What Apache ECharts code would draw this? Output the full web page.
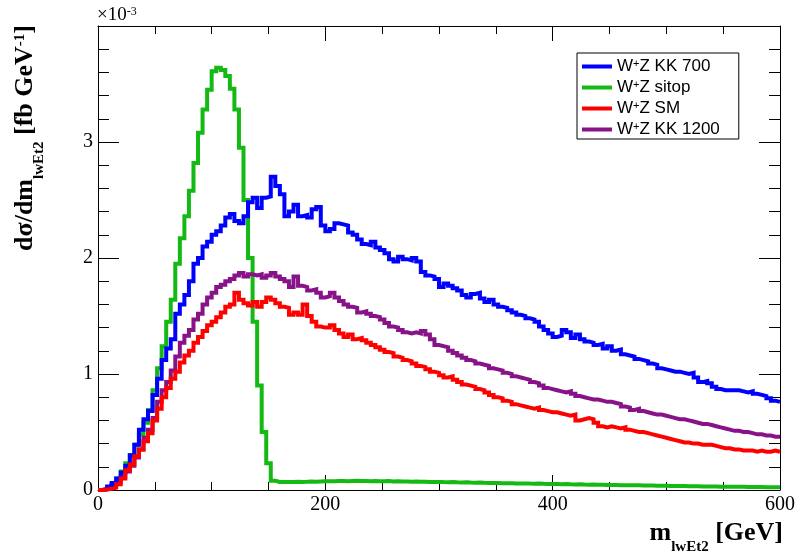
<!DOCTYPE html>
<html>
<head>
<meta charset="utf-8">
<script src="https://cdn.jsdelivr.net/npm/echarts@6/dist/echarts.min.js"></script>
<style>
html,body{margin:0;padding:0;background:#fff;}
#chart{width:798px;height:556px;}
</style>
</head>
<body>
<div id="chart"></div>
<script>
// Histogram bin width in GeV (bins start at 0), values in units of 10^-3 fb/GeV
const BIN_WIDTH = 4;
const X_MIN = 0, X_MAX = 600;
const Y_MIN = 0, Y_MAX = 4;

const seriesNames = ['W+Z KK 700', 'W+Z sitop', 'W+Z SM', 'W+Z KK 1200'];

const kk700 = [
  0.00,0.01,0.03,0.06,0.10,0.15,0.21,0.30,0.39,0.52,
  0.61,0.68,0.82,0.96,1.12,1.22,1.30,1.52,1.60,1.68,
  1.80,1.95,2.00,2.10,2.14,2.20,2.23,2.28,2.35,2.38,
  2.32,2.30,2.36,2.48,2.52,2.43,2.52,2.53,2.70,2.62,
  2.55,2.36,2.40,2.46,2.36,2.37,2.35,2.42,2.44,2.28,
  2.23,2.25,2.30,2.29,2.28,2.22,2.20,2.16,2.12,2.11,
  2.14,2.09,2.07,2.04,1.99,1.97,2.01,1.99,1.98,2.00,
  1.97,1.88,1.85,1.84,1.82,1.75,1.78,1.76,1.74,1.72,
  1.68,1.66,1.69,1.70,1.65,1.62,1.64,1.60,1.58,1.57,
  1.55,1.53,1.51,1.50,1.48,1.47,1.45,1.41,1.38,1.35,
  1.32,1.33,1.38,1.36,1.31,1.34,1.30,1.28,1.27,1.25,
  1.26,1.22,1.24,1.20,1.21,1.17,1.16,1.15,1.13,1.12,
  1.11,1.09,1.08,1.05,1.04,1.03,1.02,1.02,1.01,1.00,
  1.01,0.97,0.93,0.94,0.92,0.89,0.87,0.86,0.86,0.86,
  0.86,0.85,0.84,0.85,0.83,0.82,0.81,0.79,0.77,0.76
];

const sitop = [
  0.00,0.005,0.02,0.05,0.10,0.16,0.23,0.30,0.39,0.48,
  0.58,0.69,0.86,1.05,1.24,1.45,1.64,1.95,2.17,2.36,
  2.58,2.82,3.08,3.28,3.45,3.61,3.64,3.62,3.57,3.46,
  3.28,2.95,2.50,2.00,1.45,0.90,0.50,0.23,0.08,0.07,
  0.07,0.068,0.07,0.072,0.07,0.071,0.073,0.072,0.074,0.075,
  0.076,0.075,0.077,0.078,0.076,0.078,0.079,0.077,0.078,0.076,
  0.077,0.076,0.075,0.077,0.074,0.075,0.073,0.074,0.072,0.073,
  0.071,0.072,0.070,0.069,0.070,0.068,0.067,0.068,0.066,0.065,
  0.066,0.064,0.063,0.064,0.062,0.061,0.060,0.061,0.059,0.058,
  0.058,0.057,0.056,0.057,0.055,0.054,0.055,0.053,0.052,0.052,
  0.051,0.050,0.051,0.049,0.048,0.049,0.047,0.046,0.047,0.045,
  0.045,0.044,0.043,0.044,0.042,0.041,0.042,0.040,0.040,0.039,
  0.038,0.039,0.037,0.036,0.037,0.035,0.035,0.034,0.034,0.033,
  0.032,0.033,0.031,0.031,0.030,0.030,0.029,0.029,0.028,0.028,
  0.027,0.027,0.026,0.026,0.025,0.025,0.024,0.024,0.023,0.023
];

const sm = [
  0.00,0.005,0.01,0.02,0.05,0.10,0.17,0.22,0.29,0.35,
  0.42,0.49,0.60,0.70,0.80,0.88,0.96,1.02,1.10,1.16,
  1.20,1.27,1.32,1.37,1.42,1.45,1.49,1.53,1.58,1.60,
  1.70,1.64,1.61,1.59,1.62,1.58,1.62,1.66,1.64,1.61,
  1.58,1.57,1.51,1.53,1.51,1.60,1.50,1.45,1.41,1.40,
  1.40,1.42,1.38,1.35,1.32,1.34,1.30,1.31,1.29,1.27,
  1.25,1.23,1.21,1.19,1.18,1.15,1.14,1.12,1.11,1.09,
  1.07,1.06,1.04,1.02,1.01,0.99,0.97,0.98,0.95,0.93,
  0.91,0.90,0.89,0.87,0.86,0.84,0.82,0.80,0.79,0.77,
  0.76,0.74,0.73,0.72,0.71,0.70,0.71,0.69,0.68,0.67,
  0.67,0.66,0.65,0.64,0.65,0.60,0.61,0.62,0.61,0.58,
  0.55,0.54,0.55,0.54,0.53,0.54,0.52,0.51,0.50,0.50,
  0.49,0.48,0.47,0.46,0.45,0.44,0.43,0.42,0.41,0.41,
  0.40,0.40,0.39,0.39,0.39,0.38,0.37,0.36,0.36,0.35,
  0.35,0.34,0.34,0.34,0.33,0.34,0.33,0.33,0.34,0.33
];

const kk1200 = [
  0.00,0.005,0.02,0.04,0.07,0.11,0.16,0.21,0.28,0.35,
  0.45,0.52,0.62,0.76,0.86,0.93,1.03,1.15,1.27,1.33,
  1.38,1.47,1.52,1.60,1.66,1.70,1.75,1.77,1.80,1.82,
  1.85,1.87,1.84,1.86,1.85,1.86,1.83,1.85,1.87,1.84,
  1.82,1.80,1.75,1.84,1.76,1.75,1.72,1.73,1.70,1.66,
  1.67,1.70,1.66,1.63,1.60,1.58,1.57,1.53,1.54,1.52,
  1.50,1.49,1.47,1.44,1.41,1.40,1.38,1.36,1.35,1.36,
  1.35,1.37,1.34,1.30,1.25,1.24,1.23,1.20,1.18,1.16,
  1.14,1.12,1.11,1.09,1.08,1.07,1.05,1.04,1.03,1.01,
  1.00,0.98,0.97,0.96,0.95,0.93,0.92,0.90,0.88,0.87,
  0.86,0.85,0.84,0.85,0.83,0.81,0.80,0.79,0.78,0.78,
  0.77,0.76,0.76,0.75,0.74,0.72,0.71,0.69,0.70,0.68,
  0.67,0.66,0.65,0.65,0.64,0.63,0.62,0.61,0.61,0.60,
  0.59,0.58,0.57,0.57,0.56,0.55,0.54,0.53,0.52,0.51,
  0.51,0.50,0.50,0.49,0.48,0.48,0.47,0.47,0.46,0.46
];

function stepData(vals) {
  const d = vals.map((v, i) => [i * BIN_WIDTH, v]);
  d.push([vals.length * BIN_WIDTH, vals[vals.length - 1]]);
  return d;
}

const SERIF = "'Liberation Serif', 'Times New Roman', serif";
const SANS = "'Liberation Sans', Arial, sans-serif";

const chart = echarts.init(document.getElementById('chart'), null, {renderer: 'canvas'});

function mkSeries(name, vals, color) {
  return {
    name: name, type: 'line', step: 'end', data: stepData(vals),
    showSymbol: false, symbol: 'none', clip: false, animation: false,
    lineStyle: {color: color, width: 4, cap: 'butt', join: 'miter'},
    itemStyle: {color: color}, emphasis: {disabled: true}
  };
}

function axisStyle() { return {color: '#000', width: 1}; }
function tickSty() { return {color: '#000', width: 1}; }

chart.setOption({
  animation: false,
  backgroundColor: '#fff',
  grid: {left: 98, right: 15, top: 26, bottom: 66},
  xAxis: [{
    type: 'value', min: X_MIN, max: X_MAX, interval: 200, position: 'bottom',
    axisLine: {show: true, onZero: false, lineStyle: axisStyle()},
    axisTick: {show: true, inside: true, length: 15, lineStyle: tickSty()},
    minorTick: {show: true, splitNumber: 4, length: 8, lineStyle: tickSty()},
    splitLine: {show: false},
    axisLabel: {color: '#000', fontFamily: SERIF, fontSize: 20, margin: 5}
  }, {
    type: 'value', min: X_MIN, max: X_MAX, interval: 200, position: 'top',
    axisLine: {show: true, onZero: false, lineStyle: axisStyle()},
    axisTick: {show: true, inside: true, length: 15, lineStyle: tickSty()},
    minorTick: {show: true, splitNumber: 4, length: 8, lineStyle: tickSty()},
    splitLine: {show: false}, axisLabel: {show: false}
  }],
  yAxis: [{
    type: 'value', min: Y_MIN, max: Y_MAX, interval: 1, position: 'left',
    axisLine: {show: true, onZero: false, lineStyle: axisStyle()},
    axisTick: {show: true, inside: true, length: 21, lineStyle: tickSty()},
    minorTick: {show: true, splitNumber: 5, length: 11, lineStyle: tickSty()},
    splitLine: {show: false},
    axisLabel: {color: '#000', fontFamily: SERIF, fontSize: 20, margin: 5, showMaxLabel: false}
  }, {
    type: 'value', min: Y_MIN, max: Y_MAX, interval: 1, position: 'right',
    axisLine: {show: true, onZero: false, lineStyle: axisStyle()},
    axisTick: {show: true, inside: true, length: 21, lineStyle: tickSty()},
    minorTick: {show: true, splitNumber: 5, length: 11, lineStyle: tickSty()},
    splitLine: {show: false}, axisLabel: {show: false}
  }],
  legend: {
    data: seriesNames,
    orient: 'vertical', left: 577, top: 53,
    padding: [5, 19, 1, 5],
    itemGap: 4, itemWidth: 30, itemHeight: 4, icon: 'rect',
    borderColor: '#000', borderWidth: 1, backgroundColor: '#fff',
    formatter: function (name) {
      return '{n|W}{sup|+}{n|' + name.slice(2) + '}';
    },
    textStyle: {
      color: '#000', fontFamily: SANS, fontSize: 17, lineHeight: 17,
      rich: {
        n: {fontFamily: SANS, fontSize: 17, lineHeight: 17, color: '#000', verticalAlign: 'top'},
        sup: {fontFamily: SANS, fontSize: 11, lineHeight: 11, color: '#000', verticalAlign: 'top'}
      }
    }
  },
  series: [
    mkSeries('W+Z sitop', sitop, '#14b914'),
    mkSeries('W+Z KK 1200', kk1200, '#881288'),
    mkSeries('W+Z KK 700', kk700, '#0000ff'),
    mkSeries('W+Z SM', sm, '#ff0000')
  ],
  graphic: [
    {
      type: 'text', x: 783, y: 520, silent: true,
      style: {
        text: '{m|m}{s|lwEt2}{m| [GeV]}',
        align: 'right', verticalAlign: 'top',
        rich: {
          m: {font: 'bold 26px ' + SERIF, fill: '#000', lineHeight: 30, verticalAlign: 'top'},
          s: {font: 'bold 15px ' + SERIF, fill: '#000', lineHeight: 15, padding: [20, 0, 0, 0], verticalAlign: 'top'}
        }
      }
    },
    {
      type: 'text', x: 12, y: 25, rotation: Math.PI / 2, silent: true,
      style: {
        text: '{m|dσ/dm}{s|lwEt2}{m| [fb GeV}{p|-1}{m|]}',
        align: 'right', verticalAlign: 'top',
        rich: {
          m: {font: 'bold 26px ' + SERIF, fill: '#000', lineHeight: 30, verticalAlign: 'top'},
          s: {font: 'bold 15px ' + SERIF, fill: '#000', lineHeight: 15, padding: [20, 0, 0, 0], verticalAlign: 'top'},
          p: {font: 'bold 15px ' + SERIF, fill: '#000', lineHeight: 15, padding: [1, 0, 0, 0], verticalAlign: 'top'}
        }
      }
    },
    {
      type: 'text', x: 97, y: 6, silent: true,
      style: {
        text: '{m|×10}{p|-3}',
        align: 'left', verticalAlign: 'top',
        rich: {
          m: {font: '19px ' + SERIF, fill: '#000', lineHeight: 22, verticalAlign: 'top'},
          p: {font: '12px ' + SERIF, fill: '#000', lineHeight: 12, verticalAlign: 'top'}
        }
      }
    }
  ]
});
</script>
</body>
</html>
